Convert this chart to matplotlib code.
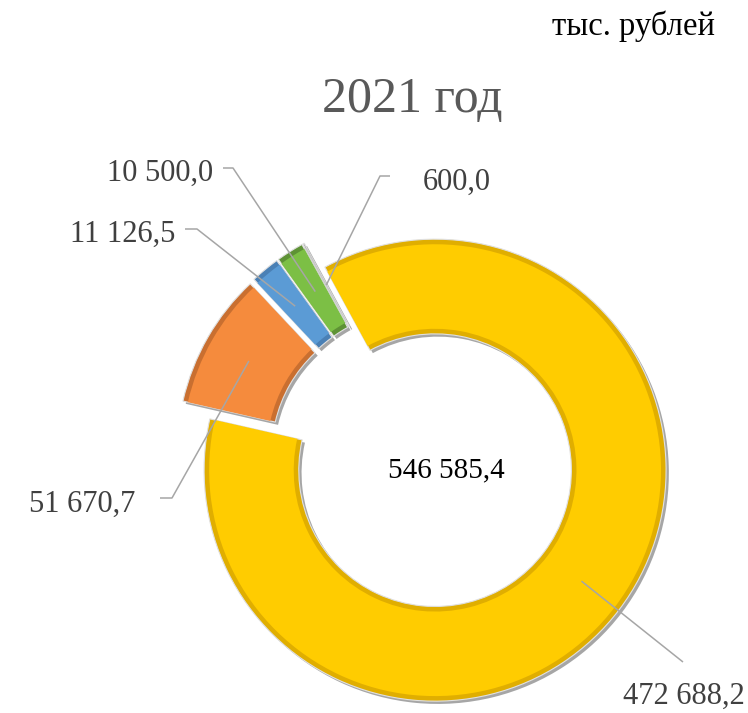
import numpy as np
import matplotlib.pyplot as plt

################################## DATA ##################################

values = [472688.2, 51670.7, 11126.5, 10500.0, 600.0]
colors = ['#FFCC00', '#F58B3D', '#5B9BD5', '#7CBF45', '#C8C8C8']
rims = ['#E0AE00', '#C96F30', '#4A80B5', '#5E9235', '#959595']
title = '2021 год'
units = 'тыс. рублей'

################################## LAYOUT ##################################

W, H = 748, 713
SCALE = 231.0              # outer radius in pixels
PC = (422.2, 460.4)        # pie centre in pixels (y down)
start = 118.5
explode = 0.07
ring = 0.41

def px(x, y):
    return ((x - PC[0]) / SCALE, (PC[1] - y) / SCALE)

def fmt(v):
    return f'{v:,.1f}'.replace(',', ' ').replace('.', ',')

# label baseline anchors (pixels), alignment, leader start and elbow
labels = [
    dict(pos=(745, 704), ha='right', line=[(683, 662)]),
    dict(pos=(135, 512), ha='right', line=[(160, 498), (172, 498)]),
    dict(pos=(175, 242), ha='right', line=[(185, 229), (197, 229)]),
    dict(pos=(213, 181), ha='right', line=[(223, 168), (233, 168)]),
    dict(pos=(423, 190), ha='left', line=[(390, 176), (380, 176)]),
]

plt.rcParams['font.family'] = ['Liberation Serif', 'DejaVu Serif']

fig = plt.figure(figsize=(W / 100, H / 100), dpi=100)
ax = fig.add_axes([0, 0, 1, 1])

################################## PIE ##################################

# shadow
ax.pie(values, startangle=start, counterclock=False, radius=1,
       center=(0.012, -0.012), explode=[explode] * len(values),
       colors=['#A6A6A6'] * len(values),
       wedgeprops=dict(width=ring, linewidth=0))
# darker rim for bevel look
wedges, _ = ax.pie(values, startangle=start, counterclock=False, radius=1,
                   explode=[explode] * len(values), colors=rims,
                   wedgeprops=dict(width=ring, edgecolor='#E0E0E0', linewidth=0.8))
# face
ax.pie(values, startangle=start, counterclock=False, radius=0.978,
       explode=[explode] * len(values), colors=colors,
       wedgeprops=dict(width=ring - 0.044, linewidth=0))

################################## LABELS ##################################

for w, v, lab in zip(wedges, values, labels):
    mid = np.deg2rad((w.theta1 + w.theta2) / 2)
    rm = w.r - ring / 2
    end = (w.center[0] + rm * np.cos(mid), w.center[1] + rm * np.sin(mid))
    pts = [px(*p) for p in lab['line']] + [end]
    ax.plot([p[0] for p in pts], [p[1] for p in pts], color='#A6A6A6', lw=1.1,
            solid_capstyle='butt', zorder=5)
    ax.text(*px(*lab['pos']), fmt(v), ha=lab['ha'], va='baseline',
            fontsize=22, color='#404040')

ax.text(*px(446, 477), fmt(sum(values)), ha='center', va='baseline',
        fontsize=21, color='black')
ax.text(*px(412, 112), title, ha='center', va='baseline', fontsize=36, color='#595959')
ax.text(*px(715, 35), units, ha='right', va='baseline', fontsize=23.5, color='black')

ax.set_xlim(px(0, 0)[0], px(W, 0)[0])
ax.set_ylim(px(0, H)[1], px(0, 0)[1])
ax.set_aspect('equal')
ax.axis('off')

fig.savefig('out.png', dpi=100)
